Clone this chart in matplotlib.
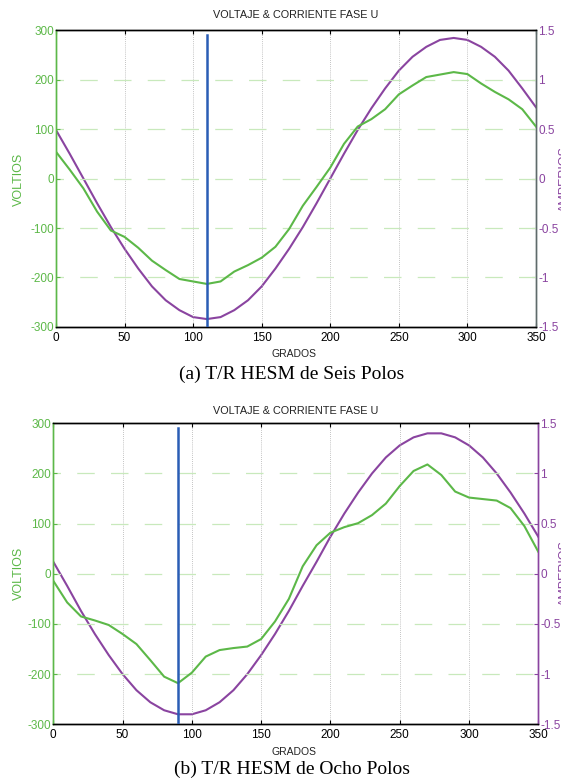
import numpy as np
import matplotlib.pyplot as plt

# grados (paso de 10)
grados = list(range(0, 360, 10))

# (a) seis polos
volt_a = [54, 18, -20, -67, -105, -118, -140, -166, -185, -203, -208, -213, -208, -188,
          -175, -160, -138, -102, -55, -17, 22, 70, 105, 120, 140, 170, 188, 205,
          210, 215, 211, 192, 175, 160, 140, 105]
corr_a = [0.49, 0.25, 0.0, -0.25, -0.49, -0.71, -0.91, -1.09, -1.23, -1.33, -1.40, -1.42,
          -1.40, -1.33, -1.23, -1.09, -0.91, -0.71, -0.49, -0.25, 0.0, 0.25, 0.49, 0.71,
          0.91, 1.09, 1.23, 1.33, 1.40, 1.42, 1.40, 1.33, 1.23, 1.09, 0.91, 0.72]
marca_a = 110

# (b) ocho polos
volt_b = [-14, -57, -85, -93, -102, -120, -140, -172, -205, -218, -197, -165, -152, -148,
          -145, -130, -95, -50, 15, 57, 82, 93, 101, 117, 140, 175, 205, 218, 197, 164,
          152, 149, 146, 131, 95, 44]
corr_b = [0.12, -0.12, -0.37, -0.60, -0.81, -1.00, -1.16, -1.28, -1.36, -1.40, -1.40, -1.36,
          -1.28, -1.16, -1.00, -0.81, -0.60, -0.37, -0.12, 0.12, 0.37, 0.60, 0.81, 1.00,
          1.16, 1.28, 1.36, 1.40, 1.40, 1.36, 1.28, 1.16, 1.00, 0.81, 0.60, 0.37]
marca_b = 90

xticks = [0, 50, 100, 150, 200, 250, 300, 350]
vticks = [-300, -200, -100, 0, 100, 200, 300]
vlabels = ['-300', '-200', '-100', '0', '100', '200', '300']
aticks = [-1.5, -1, -0.5, 0, 0.5, 1, 1.5]
alabels = ['-1.5', '-1', '-0.5', '0', '0.5', '1', '1.5']

VERDE = '#5cb848'
MORADO = '#8a44a0'
AZUL = '#2a5db5'

plt.rcParams['font.family'] = ['Liberation Sans', 'DejaVu Sans']

fig = plt.figure(figsize=(5.61, 7.78), dpi=100)


def panel(rect, volt, corr, marca, rcolor, title_y, grados_y, cap_y, caption, ylab_y):
    ax = fig.add_axes(rect)
    ax2 = ax.twinx()
    ax.set_zorder(ax2.get_zorder() + 1)
    ax.patch.set_visible(False)

    ax.plot(grados, volt, color=VERDE, lw=1.5, zorder=3)
    ax2.plot(grados, corr, color=MORADO, lw=1.5)
    ax.plot([marca, marca], [-300, 290], color=AZUL, lw=1.8, zorder=4)

    ax.set_xlim(0, 350)
    ax.set_ylim(-300, 300)
    ax2.set_ylim(-1.5, 1.5)
    ax.set_xticks(xticks)
    ax.set_xticklabels([str(t) for t in xticks], fontsize=8.5)
    ax.set_yticks(vticks)
    ax.set_yticklabels(vlabels, fontsize=8.5, color=VERDE)
    ax2.set_yticks(aticks)
    ax2.set_yticklabels(alabels, fontsize=8.5, color=MORADO)

    for t in [50, 100, 150, 200, 250, 300]:
        ax.axvline(t, color='#b0b0b0', lw=0.6, ls=(0, (1, 1.5)), zorder=1)
    for v in [-200, -100, 0, 100, 200]:
        ax.axhline(v, color='#c8e9bc', lw=0.9, ls=(8, (14, 13)), zorder=1)

    ax.tick_params(axis='x', direction='in', top=True, length=3, pad=3.5, colors='black')
    ax.tick_params(axis='y', direction='in', length=3, pad=1.5, colors=VERDE)
    ax2.tick_params(axis='y', direction='in', length=3, pad=1.5, colors=rcolor,
                    labelcolor=MORADO)

    for a in (ax, ax2):
        a.spines['top'].set_color('black')
        a.spines['bottom'].set_color('black')
        a.spines['left'].set_color(VERDE)
        a.spines['right'].set_color(rcolor)
        for s in a.spines.values():
            s.set_linewidth(1.0)

    fig.text(0.527, title_y, 'VOLTAJE & CORRIENTE FASE U', ha='center', va='center',
             fontsize=7.8, color='#222222')
    fig.text(0.524, grados_y, 'GRADOS', ha='center', va='center', fontsize=7.5,
             color='#222222')
    fig.text(0.033, ylab_y, 'VOLTIOS', ha='center', va='center', rotation=90,
             fontsize=9, color=VERDE)
    fig.text(0.996, ylab_y, 'AMPERIOS', ha='left', va='center', rotation=90,
             fontsize=9, color=MORADO)
    fig.text(0.52, cap_y, caption, ha='center', va='center', fontsize=14,
             family='Liberation Serif')
    return ax


panel([0.0998, 0.5797, 0.8556, 0.3817], volt_a, corr_a, marca_a, '#5f6b6b',
      0.9807, 0.545, 0.519, '(a) T/R HESM de Seis Polos', 0.77)
panel([0.0950, 0.0690, 0.8645, 0.3869], volt_b, corr_b, marca_b, MORADO,
      0.4717, 0.0338, 0.0115, '(b) T/R HESM de Ocho Polos', 0.263)

fig.savefig('out.png', dpi=100)
